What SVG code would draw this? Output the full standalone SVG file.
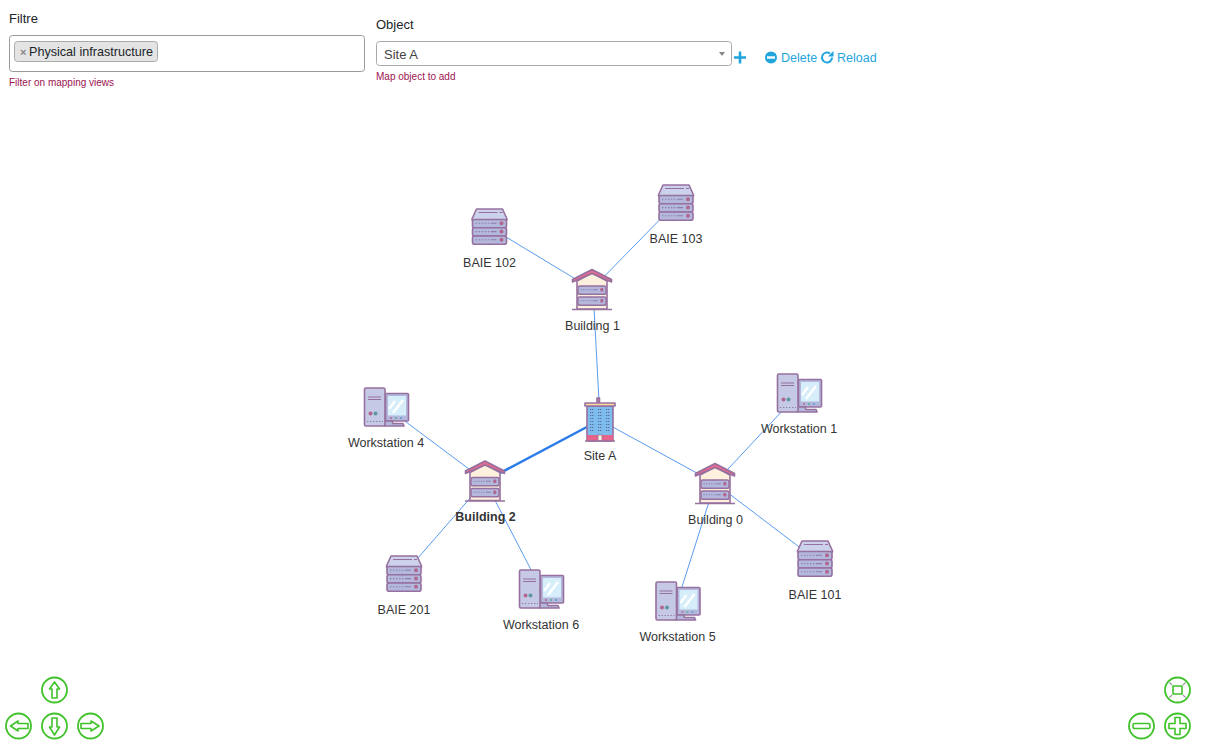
<svg xmlns="http://www.w3.org/2000/svg" xmlns:xlink="http://www.w3.org/1999/xlink" width="1206" height="748" viewBox="0 0 1206 748">
<style>
text{font-family:"Liberation Sans",Arial,sans-serif;font-size:13px;fill:#343434}
.lab{text-anchor:middle;font-size:12.5px}
.ui{fill:#212529}
.hint{font-size:10px;fill:#9c1450}
.link{fill:#1fa5dc;font-size:12.500px}
.edge{stroke:#5a9bf2;stroke-width:1;fill:none}
.thick{stroke:#2b7ce9;stroke-width:2.500;fill:none}
.o{stroke:#96709f;stroke-width:1.600;stroke-linejoin:round;stroke-linecap:round}
.nav circle{fill:#fff;stroke:#3fc22a;stroke-width:1.800}
.nav path,.nav rect.g{fill:#fff;stroke:#3fc22a;stroke-width:1.600;stroke-linejoin:round}
</style>
<defs>
<g id="srow">
<rect x="-17" y="-4" width="34" height="8.200" rx="2" fill="#b3b8dc" class="o"/>
<path d="M-14-.2h1.400M-11-.2h1.400M-8-.2h1.400M-5-.2h1.400M-2-.2h1.400M1-.2h6" stroke="#8c7fa8" stroke-width="1.100" fill="none"/>
<circle cx="12" cy="-.2" r="2" fill="#b0668f"/>
</g>
<g id="server" transform="translate(0,1)">
<path d="M-13-19H13L17.500-9V-8H-17.500V-9Z" fill="#ccd2ec" class="o"/>
<path d="M-11-15.500H8M10-15.500H13" stroke="#96709f" stroke-width="1.200" fill="none"/>
<use href="#srow" y="-4.500"/><use href="#srow" y="3.800"/><use href="#srow" y="12"/>
</g>
<g id="bldg" transform="translate(0,.5)">
<path d="M-15-9V19H15V-9L0-17Z" fill="#fdf0dc" class="o"/>
<path d="M-19.500-8V-10.500L0-20.500 19.500-10.500V-8L0-16.500Z" fill="#e56a8e" class="o"/>
<path d="M-20 19.500H20" stroke="#96709f" stroke-width="1.400"/>
<g transform="scale(.82,1)"><use href="#srow" y="0"/></g>
<g transform="translate(0,11) scale(.82,1)"><use href="#srow" y="0"/></g>
</g>
<g id="wks">
<rect x="-.5" y="-13.500" width="23" height="27.500" rx="1" fill="#b3b8dc" class="o"/>
<rect x="2" y="-11" width="18" height="19.500" fill="#d5eefa"/>
<path d="M7 6 17-7M3 2 9-6" stroke="#fff" stroke-width="2.500"/>
<path d="M4 11h2" stroke="#b0668f" stroke-width="1.400"/><path d="M9 11h2" stroke="#4fb38f" stroke-width="1.400"/><path d="M14 11h2" stroke="#4f9fd0" stroke-width="1.400"/>
<path d="M3 14H6L7 16.500H17L18 19H-2V14Z" fill="#b3b8dc" class="o"/>
<rect x="-21.500" y="-19" width="20.500" height="38" rx="1.500" fill="#c5c9e6" class="o"/>
<path d="M-18-10H-5M-18-7.500H-5" stroke="#96709f" stroke-width="1.100"/>
<circle cx="-15.500" cy="6.500" r="2" fill="#b0668f"/><circle cx="-10.500" cy="6.500" r="2" fill="#5c9a9f"/>
<path d="M-19 14.500H-3" stroke="#8c7fa8" stroke-width="1.200" stroke-dasharray="1.400 1.600"/>
</g>
<g id="site">
<rect x="-13" y="-14" width="26" height="35" fill="#7dbcec" class="o"/>
<path d="M-3-18V-22H-.5V-18Z" fill="#d97a98" class="o"/>
<rect x="-15" y="-17" width="30" height="3" fill="#fbd9a0" class="o"/>
<path d="M-10-10.500H-6M-10-7.500H-6M-10-4.500H-6M-10-1.500H-6M-10 1.500H-6M-10 4.500H-6M-10 7.500H-6M-10 10.500H-6M-2-10.500H2M-2-7.500H2M-2-4.500H2M-2-1.500H2M-2 1.500H2M-2 4.500H2M-2 7.500H2M-2 10.500H2M6-10.500H10M6-7.500H10M6-4.500H10M6-1.500H10M6 1.500H10M6 4.500H10M6 7.500H10M6 10.500H10" stroke="#5a6a9c" stroke-width="1.200" fill="none" stroke-dasharray="1.300 .7"/>
<rect x="-13" y="15" width="26" height="6" fill="#e5648c"/>
<rect x="-2" y="15" width="4" height="6" fill="#fdf0dc" stroke="#96709f" stroke-width=".8"/>
<path d="M-15 21H15" stroke="#96709f" stroke-width="1.400"/>
</g>
</defs>

<g id="toolbar">
<text x="9" y="23" class="ui">Filtre</text>
<rect x="9.500" y="35.500" width="355" height="36" rx="3" fill="#fff" stroke="#9a9a9a"/>
<rect x="14.500" y="41.500" width="143" height="20" rx="3" fill="#e4e4e4" stroke="#aaa"/>
<text x="20" y="56" style="fill:#888;font-weight:bold;font-size:11px">×</text>
<text x="29" y="56" class="ui" style="font-size:12.600px">Physical infrastructure</text>
<text x="9" y="86" class="hint">Filter on mapping views</text>
<text x="376" y="29" class="ui">Object</text>
<rect x="376.500" y="41.500" width="355" height="24" rx="3" fill="#fff" stroke="#aaa"/>
<text x="384" y="59" style="fill:#444">Site A</text>
<path d="M719 52H725L722 56Z" fill="#888"/>
<text x="376" y="80" class="hint">Map object to add</text>
<path d="M740 51.500V63.500M734 57.500H746" stroke="#1fa5dc" stroke-width="2.600" fill="none"/>
<circle cx="771" cy="57.500" r="6" fill="#1fa5dc"/><rect x="767" y="56.300" width="8" height="2.400" fill="#fff"/>
<text x="781" y="62" class="link">Delete</text>
<path d="M832 57.500A5 5 0 1 1 830 53.500" fill="none" stroke="#1fa5dc" stroke-width="2"/><path d="M833.500 51V56.500H828Z" fill="#1fa5dc"/>
<text x="837" y="62" class="link">Reload</text>
</g>

<g id="connectors">
<path class="edge" d="M489.500 227 592 289"/>
<path class="edge" d="M676 203 592 289"/>
<path class="edge" d="M593 289 600 420"/>
<path class="edge" d="M600 420 715 483"/>
<path class="thick" d="M600 420 485 481"/>
<path class="edge" d="M715 483 799 393"/>
<path class="edge" d="M715 483 815 559"/>
<path class="edge" d="M715 483 677.500 601"/>
<path class="edge" d="M485 481 386 407"/>
<path class="edge" d="M485 481 404 574"/>
<path class="edge" d="M485 481 541 589"/>
</g>

<g id="baie102"><use href="#server" x="489.500" y="227"/><text class="lab" x="489.500" y="267">BAIE 102</text></g>
<g id="baie103"><use href="#server" x="676" y="203"/><text class="lab" x="676" y="243">BAIE 103</text></g>
<g id="building1"><use href="#bldg" x="592" y="289.500"/><text class="lab" x="592.500" y="330">Building 1</text></g>
<g id="siteA"><use href="#site" x="600" y="420"/><text class="lab" x="600" y="460">Site A</text></g>
<g id="building0"><use href="#bldg" x="715" y="483.500"/><text class="lab" x="715.500" y="524">Building 0</text></g>
<g id="building2"><use href="#bldg" x="485" y="481"/><text class="lab" x="485.500" y="521" style="font-weight:bold">Building 2</text></g>
<g id="workstation1"><use href="#wks" x="799" y="393"/><text class="lab" x="799" y="433">Workstation 1</text></g>
<g id="workstation4"><use href="#wks" x="386" y="407"/><text class="lab" x="386" y="447">Workstation 4</text></g>
<g id="workstation5"><use href="#wks" x="677.500" y="601"/><text class="lab" x="677.500" y="641">Workstation 5</text></g>
<g id="workstation6"><use href="#wks" x="541" y="589"/><text class="lab" x="541" y="629">Workstation 6</text></g>
<g id="baie201"><use href="#server" x="404" y="574"/><text class="lab" x="404" y="614">BAIE 201</text></g>
<g id="baie101"><use href="#server" x="815" y="559"/><text class="lab" x="815" y="599">BAIE 101</text></g>

<g id="nav-up" class="nav"><circle cx="54.500" cy="690" r="12.500"/><path d="M54.500 682 59.500 689H57V698H52V689H49.500Z"/></g>
<g id="nav-left" class="nav"><circle cx="18.500" cy="726" r="12.500"/><path d="M10.500 726 18 721V723.500H28V728.500H18V731Z"/></g>
<g id="nav-down" class="nav"><circle cx="54.500" cy="726" r="12.500"/><path d="M54.500 735 49.500 727H52V718H57V727H59.500Z"/></g>
<g id="nav-right" class="nav"><circle cx="90.500" cy="726" r="12.500"/><path d="M99 726 91 721V723.500H81V728.500H91V731Z"/></g>
<g id="nav-fit" class="nav"><circle cx="1177.500" cy="690" r="12.500"/><rect class="g" x="1173" y="686" width="9" height="8"/><path d="M1169.500 682.500 1172 685M1185.500 682.500 1183 685M1169.500 697.500 1172 695M1185.500 697.500 1183 695" style="stroke:#999;stroke-width:1.200"/></g>
<g id="nav-out" class="nav"><circle cx="1141.500" cy="726" r="12.500"/><rect class="g" x="1133" y="723.500" width="17" height="5" rx="1.500"/></g>
<g id="nav-in" class="nav"><circle cx="1177.500" cy="726" r="12.500"/><path d="M1175 717.500H1180V723.500H1186V728.500H1180V734.500H1175V728.500H1169V723.500H1175Z"/></g>
</svg>
